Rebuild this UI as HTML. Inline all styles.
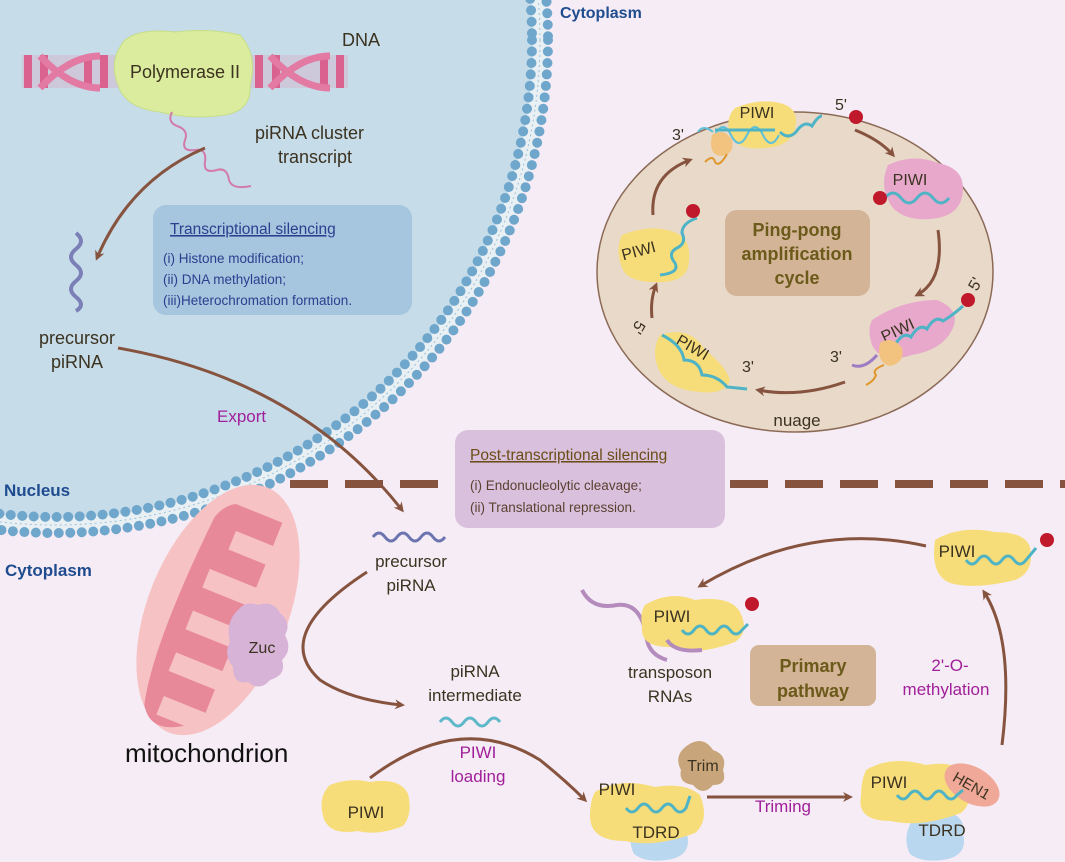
<!DOCTYPE html>
<html><head><meta charset="utf-8"><style>
html,body{margin:0;padding:0;background:#f6ecf5;}
svg{display:block;font-family:"Liberation Sans",sans-serif;}
</style></head><body>
<svg width="1065" height="862" viewBox="0 0 1065 862" xmlns="http://www.w3.org/2000/svg">
<defs>
<marker id="ah" markerWidth="10" markerHeight="10" refX="7" refY="5" orient="auto" markerUnits="userSpaceOnUse" viewBox="0 0 10 10">
<path d="M0,0 L10,5 L0,10 L3,5 Z" fill="#86533f"/>
</marker>
<clipPath id="cv"><rect width="1065" height="862"/></clipPath>
</defs>
<rect width="1065" height="862" fill="#f6ecf5"/>
<g clip-path="url(#cv)">
<circle cx="55" cy="40" r="485" fill="#c6dce9"/>
<circle cx="55" cy="40" r="485" fill="none" stroke="#e9f0f4" stroke-width="14"/>
<circle cx="55" cy="40" r="485" fill="none" stroke="#9dc0d8" stroke-width="1" stroke-dasharray="2 3"/>
<circle cx="55" cy="40" r="477" fill="none" stroke="#6fa6cc" stroke-width="10" stroke-dasharray="0 11.5" stroke-linecap="round"/>
<circle cx="55" cy="40" r="493" fill="none" stroke="#6fa6cc" stroke-width="10" stroke-dasharray="0 11.5" stroke-linecap="round"/>
</g>
<!-- dashed line -->
<line x1="290" y1="484" x2="1065" y2="484" stroke="#86533f" stroke-width="8" stroke-dasharray="38 17"/>

<!-- DNA -->
<g>
<rect x="22" y="55" width="326" height="33" fill="#e58fb0" opacity="0.25"/>
<g fill="#d9628e">
<rect x="24" y="55" width="8" height="33"/><rect x="40" y="55" width="8" height="33"/><rect x="84" y="55" width="8" height="33"/><rect x="100" y="55" width="8" height="33"/>
<rect x="255" y="55" width="8" height="33"/><rect x="272" y="55" width="8" height="33"/><rect x="320" y="55" width="8" height="33"/><rect x="336" y="55" width="8" height="33"/>
</g>
<path d="M40,56 Q70,88 100,88 M40,88 Q70,56 100,56 M270,56 Q300,88 330,88 M270,88 Q300,56 330,56" stroke="#e27aa3" stroke-width="7" fill="none"/>
</g>
<path d="M125,40 Q140,28 175,32 Q210,28 240,35 Q258,55 250,85 Q252,110 225,115 Q190,120 160,112 Q125,108 118,85 Q108,60 125,40Z" fill="#dcec9e" stroke="#c7de86"/>
<text x="185" y="78" font-size="18" text-anchor="middle" fill="#3b3220">Polymerase II</text>
<text x="342" y="46" font-size="18" fill="#3b3220">DNA</text>
<path d="M172,112 q-5,10 5,14 q12,4 8,14 q-4,12 10,10 q12,-2 10,12 q-2,12 12,8 q10,-3 12,10 q3,10 22,6" stroke="#d27aa8" stroke-width="2" fill="none"/>
<text x="255" y="139" font-size="18" fill="#3b3220">piRNA cluster</text>
<text x="278" y="163" font-size="18" fill="#3b3220">transcript</text>
<path d="M205,148 Q130,180 97,258" stroke="#86533f" stroke-width="3" fill="none" marker-end="url(#ah)"/>
<path d="M76,233 q10,8 0,16 q-10,8 0,16 q10,8 0,16 q-10,8 0,16 q10,8 0,14" stroke="#7a7fb5" stroke-width="4" fill="none"/>
<text x="77" y="344" font-size="18" text-anchor="middle" fill="#3b3220">precursor</text>
<text x="77" y="368" font-size="18" text-anchor="middle" fill="#3b3220">piRNA</text>

<rect x="153" y="205" width="259" height="110" rx="13" fill="#a6c5de"/>
<text x="170" y="234" font-size="15.5" fill="#2c3f8f" text-decoration="underline">Transcriptional silencing</text>
<text x="163" y="263" font-size="13.5" fill="#2c3f8f">(i) Histone modification;</text>
<text x="163" y="284" font-size="13.5" fill="#2c3f8f">(ii) DNA methylation;</text>
<text x="163" y="305" font-size="13.5" fill="#2c3f8f">(iii)Heterochromation formation.</text>

<path d="M118,348 Q300,380 402,510" stroke="#86533f" stroke-width="3" fill="none" marker-end="url(#ah)"/>
<text x="217" y="422" font-size="17" fill="#a0209a">Export</text>
<text x="4" y="496" font-size="17" font-weight="bold" fill="#1f4b8f">Nucleus</text>
<text x="5" y="576" font-size="17" font-weight="bold" fill="#1f4b8f">Cytoplasm</text>
<text x="560" y="18" font-size="16" font-weight="bold" fill="#1f4b8f">Cytoplasm</text>

<!-- mitochondrion -->
<g transform="rotate(22 218 610)">
<ellipse cx="218" cy="610" rx="70" ry="132" fill="#f6c2c3"/>
<path d="M185,505 h60 v25 h-40 v20 h40 v25 h-50 v20 h50 v25 h-50 v20 h50 v25 h-50 v20 h50 v25 h-45 v20 h30 q-30,20 -45,-5 q-15,-60 -5,-200 q5,-15 15,-20Z" fill="#e8899a"/>
</g>
<path d="M238,610 q8,-10 20,-5 q15,-5 22,8 q12,10 5,22 q8,15 -3,25 q5,15 -12,20 q-10,12 -22,2 q-15,3 -15,-15 q-10,-12 -3,-25 q-5,-20 8,-32Z" fill="#d6b3d7"/>
<text x="262" y="653" font-size="16" text-anchor="middle" fill="#3b3220">Zuc</text>
<text x="125" y="762" font-size="26" fill="#111">mitochondrion</text>

<path d="M373,537 q6,-8 12,0 q6,8 12,0 q6,-8 12,0 q6,8 12,0 q6,-8 12,0 q6,8 12,0" stroke="#6b73b0" stroke-width="3" fill="none"/>
<text x="411" y="567" font-size="17" text-anchor="middle" fill="#3b3220">precursor</text>
<text x="411" y="591" font-size="17" text-anchor="middle" fill="#3b3220">piRNA</text>
<path d="M367,572 Q270,635 320,680 Q350,700 402,705" stroke="#86533f" stroke-width="3" fill="none" marker-end="url(#ah)"/>
<text x="475" y="677" font-size="17" text-anchor="middle" fill="#3b3220">piRNA</text>
<text x="475" y="701" font-size="17" text-anchor="middle" fill="#3b3220">intermediate</text>
<path d="M440,722 q6,-8 12,0 q6,8 12,0 q6,-8 12,0 q6,8 12,0 q6,-8 12,0" stroke="#5fb8c8" stroke-width="3" fill="none"/>
<path d="M370,778 Q460,710 540,760 Q565,780 585,800" stroke="#86533f" stroke-width="3" fill="none" marker-end="url(#ah)"/>
<text x="478" y="758" font-size="17" text-anchor="middle" fill="#a0209a">PIWI</text>
<text x="478" y="782" font-size="17" text-anchor="middle" fill="#a0209a">loading</text>
<path d="M330,785 q20,-8 40,-3 q30,-5 38,12 q5,20 -5,32 q-25,10 -45,5 q-30,5 -35,-15 q-5,-20 7,-31Z" fill="#f7dd7a"/>
<text x="366" y="818" font-size="17" text-anchor="middle" fill="#3b3220">PIWI</text>

<!-- complex 2 -->
<path d="M642,812 q15,-8 30,0 q18,5 15,22 q5,20 -15,25 q-25,5 -38,-5 q-10,-20 8,-42Z" fill="#b9d7ef"/>
<path d="M595,792 q25,-15 60,-5 q30,-5 45,8 q10,25 -5,38 q-40,15 -70,8 q-35,0 -35,-25 q0,-15 5,-24Z" fill="#f7dd7a"/>
<path d="M688,745 q15,-10 25,5 q15,5 10,20 q5,15 -10,15 q-10,12 -20,0 q-15,-2 -12,-15 q-8,-15 7,-25Z" fill="#c9a57c"/>
<text x="703" y="771" font-size="16" text-anchor="middle" fill="#3b3220">Trim</text>
<text x="617" y="795" font-size="17" text-anchor="middle" fill="#3b3220">PIWI</text>
<path d="M626,808 q6,8 12,0 q6,-8 12,0 q6,8 12,0 q6,-8 12,0 q6,8 12,0 l4,-12" stroke="#4fb3c6" stroke-width="3" fill="none"/>
<text x="656" y="838" font-size="17" text-anchor="middle" fill="#3b3220">TDRD</text>
<line x1="707" y1="797" x2="850" y2="797" stroke="#86533f" stroke-width="3" marker-end="url(#ah)"/>
<text x="783" y="812" font-size="17" text-anchor="middle" fill="#a0209a">Triming</text>

<!-- complex 3 -->
<path d="M918,812 q15,-8 30,0 q18,5 15,22 q5,20 -15,25 q-25,5 -38,-5 q-10,-20 8,-42Z" fill="#b9d7ef"/>
<path d="M866,770 q25,-15 60,-5 q30,-5 40,10 q10,25 -5,38 q-40,15 -70,8 q-35,0 -30,-25 q0,-15 5,-26Z" fill="#f7dd7a"/>
<ellipse cx="972" cy="785" rx="30" ry="18" transform="rotate(30 972 785)" fill="#f0a898"/>
<text x="972" y="791" font-size="15" text-anchor="middle" fill="#3b3220" transform="rotate(30 972 785)">HEN1</text>
<text x="889" y="788" font-size="17" text-anchor="middle" fill="#3b3220">PIWI</text>
<path d="M897,795 q6,8 12,0 q6,-8 12,0 q6,8 12,0 q6,-8 12,0 q6,8 12,0 l6,-5" stroke="#4fb3c6" stroke-width="3" fill="none"/>
<text x="942" y="836" font-size="17" text-anchor="middle" fill="#3b3220">TDRD</text>
<path d="M1002,745 Q1015,640 984,592" stroke="#86533f" stroke-width="3" fill="none" marker-end="url(#ah)"/>
<text x="950" y="671" font-size="17" text-anchor="middle" fill="#a0209a">2'-O-</text>
<text x="946" y="695" font-size="17" text-anchor="middle" fill="#a0209a">methylation</text>

<!-- top right PIWI -->
<path d="M935,540 q25,-15 60,-8 q30,0 35,15 q5,25 -15,33 q-40,10 -65,3 q-20,-8 -15,-43Z" fill="#f7dd7a"/>
<text x="957" y="557" font-size="17" text-anchor="middle" fill="#3b3220">PIWI</text>
<path d="M966,560 q6,8 12,0 q6,-8 12,0 q6,8 12,0 q6,-8 12,0 q6,8 12,0 l10,-12" stroke="#4fb3c6" stroke-width="3" fill="none"/>
<circle cx="1047" cy="540" r="7" fill="#c0192b"/>
<path d="M926,546 Q810,520 700,586" stroke="#86533f" stroke-width="3" fill="none" marker-end="url(#ah)"/>

<!-- transposon PIWI -->
<path d="M582,590 q10,20 35,15 q25,-3 30,35 q3,15 20,20" stroke="#b48bbd" stroke-width="4" fill="none"/>
<path d="M645,605 q25,-15 50,-5 q35,-5 45,12 q10,20 -5,30 q-40,15 -65,5 q-30,0 -28,-20 q-2,-15 3,-22Z" fill="#f7dd7a"/>
<path d="M667,640 q8,13 35,10" stroke="#b48bbd" stroke-width="4" fill="none"/>
<text x="672" y="622" font-size="17" text-anchor="middle" fill="#3b3220">PIWI</text>
<path d="M682,630 q6,8 12,0 q6,-8 12,0 q6,8 12,0 q6,-8 12,0 q6,8 12,0 l6,-6" stroke="#4fb3c6" stroke-width="3" fill="none"/>
<circle cx="752" cy="604" r="7" fill="#c0192b"/>
<text x="670" y="678" font-size="17" text-anchor="middle" fill="#3b3220">transposon</text>
<text x="670" y="702" font-size="17" text-anchor="middle" fill="#3b3220">RNAs</text>
<rect x="750" y="645" width="126" height="61" rx="9" fill="#d3b497"/>
<text x="813" y="672" font-size="18" font-weight="bold" text-anchor="middle" fill="#6b5a1a">Primary</text>
<text x="813" y="697" font-size="18" font-weight="bold" text-anchor="middle" fill="#6b5a1a">pathway</text>

<!-- Post-transcriptional box -->
<rect x="455" y="430" width="270" height="98" rx="13" fill="#d9c1dd"/>
<text x="470" y="460" font-size="15.5" fill="#6b4c16" text-decoration="underline">Post-transcriptional silencing</text>
<text x="470" y="490" font-size="13.5" fill="#5b4030">(i) Endonucleolytic cleavage;</text>
<text x="470" y="512" font-size="13.5" fill="#5b4030">(ii) Translational repression.</text>

<!-- ping-pong -->
<ellipse cx="795" cy="272" rx="198" ry="160" fill="#e8d9c9" stroke="#8b6a56" stroke-width="1.5"/>
<rect x="725" y="210" width="145" height="86" rx="12" fill="#d3b497"/>
<text x="797" y="236" font-size="18" font-weight="bold" text-anchor="middle" fill="#6b5a1a">Ping-pong</text>
<text x="797" y="260" font-size="18" font-weight="bold" text-anchor="middle" fill="#6b5a1a">amplification</text>
<text x="797" y="284" font-size="18" font-weight="bold" text-anchor="middle" fill="#6b5a1a">cycle</text>
<!-- top PIWI -->
<path d="M735,108 q25,-10 45,-5 q20,5 15,25 q-3,18 -30,20 q-30,3 -35,-15 q-5,-15 5,-25Z" fill="#f7dd7a"/>
<text x="757" y="118" font-size="16" text-anchor="middle" fill="#3b3220">PIWI</text>
<path d="M698,132 q5,-8 15,0 M715,135 q8,-16 16,0 q8,16 16,0 q8,-16 16,0 q8,16 16,0" stroke="#5fc0d8" stroke-width="2" fill="none"/>
<path d="M715,130 h60 M780,132 q8,8 16,0 q8,-12 16,-6 q6,-10 10,-10" stroke="#4fb3c6" stroke-width="3" fill="none"/>
<path d="M712,135 q12,-8 20,5 q3,15 -12,16 q-12,-2 -8,-21Z" fill="#f2c37f"/>
<path d="M705,162 q8,-8 10,0 q4,6 12,-8" stroke="#e0962a" stroke-width="2" fill="none"/>
<circle cx="856" cy="117" r="7" fill="#c0192b"/>
<text x="672" y="140" font-size="16" fill="#3b3220">3'</text>
<text x="835" y="110" font-size="16" fill="#3b3220">5'</text>
<path d="M855,130 Q880,140 893,155" stroke="#86533f" stroke-width="3" fill="none" marker-end="url(#ah)"/>
<!-- right pink PIWI -->
<path d="M888,165 q25,-12 50,-2 q25,5 25,25 q0,25 -25,30 q-30,5 -45,-10 q-15,-20 -5,-43Z" fill="#e8a8cc"/>
<text x="910" y="185" font-size="16" text-anchor="middle" fill="#3b3220">PIWI</text>
<path d="M885,198 q8,-10 16,0 q8,10 16,0 q8,-10 16,0 q8,10 16,0" stroke="#4fb3c6" stroke-width="3" fill="none"/>
<circle cx="880" cy="198" r="7" fill="#c0192b"/>
<path d="M938,230 Q945,280 917,295" stroke="#86533f" stroke-width="3" fill="none" marker-end="url(#ah)"/>
<!-- lower right pink PIWI -->
<path d="M872,320 q30,-20 65,-20 q25,10 15,30 q-10,20 -40,25 q-30,10 -40,-10 q-5,-15 0,-25Z" fill="#e8a8cc"/>
<text x="900" y="335" font-size="16" text-anchor="middle" fill="#3b3220" transform="rotate(-25 900 335)">PIWI</text>
<path d="M895,345 q8,-14 16,-8 q8,-14 16,-8 q8,-14 16,-8 q10,-6 20,-15" stroke="#4fb3c6" stroke-width="3" fill="none"/>
<circle cx="968" cy="300" r="7" fill="#c0192b"/>
<text x="970" y="290" font-size="16" fill="#3b3220" transform="rotate(-60 975 285)">5'</text>
<path d="M880,343 q12,-8 22,5 q3,15 -12,18 q-14,-3 -10,-23Z" fill="#f2c37f"/>
<path d="M852,365 q12,5 25,-10" stroke="#9d7cc4" stroke-width="3" fill="none"/>
<path d="M866,385 q8,-4 10,-10 q-5,-5 8,-10" stroke="#e0962a" stroke-width="2" fill="none"/>
<text x="830" y="362" font-size="16" fill="#3b3220">3'</text>
<path d="M845,382 Q800,398 758,390" stroke="#86533f" stroke-width="3" fill="none" marker-end="url(#ah)"/>
<text x="797" y="426" font-size="17" text-anchor="middle" fill="#3b3220">nuage</text>
<!-- bottom left PIWI -->
<path d="M660,335 q30,-10 45,15 q20,15 25,30 q-5,15 -30,12 q-30,-2 -40,-20 q-10,-20 0,-37Z" fill="#f7dd7a"/>
<text x="690" y="352" font-size="16" text-anchor="middle" fill="#3b3220" transform="rotate(30 690 352)">PIWI</text>
<path d="M662,335 q20,10 22,25 q15,0 18,15 q15,0 25,12 l20,2" stroke="#4fb3c6" stroke-width="3" fill="none"/>
<text x="742" y="372" font-size="16" fill="#3b3220">3'</text>
<text x="636" y="332" font-size="16" fill="#3b3220" transform="rotate(120 640 326)">5'</text>
<path d="M652,318 Q650,300 656,285" stroke="#86533f" stroke-width="3" fill="none" marker-end="url(#ah)"/>
<!-- left PIWI -->
<path d="M622,235 q25,-10 45,-5 q25,5 22,30 q0,20 -25,22 q-30,2 -40,-10 q-10,-20 -2,-37Z" fill="#f7dd7a"/>
<text x="640" y="256" font-size="16" text-anchor="middle" fill="#3b3220" transform="rotate(-15 640 256)">PIWI</text>
<path d="M697,218 q-15,5 -15,15 q5,10 -5,15 q-10,5 -2,15 q5,10 -15,12" stroke="#4fb3c6" stroke-width="3" fill="none"/>
<circle cx="693" cy="211" r="7" fill="#c0192b"/>
<path d="M653,215 Q650,175 690,160" stroke="#86533f" stroke-width="3" fill="none" marker-end="url(#ah)"/>
</svg>
</body></html>
